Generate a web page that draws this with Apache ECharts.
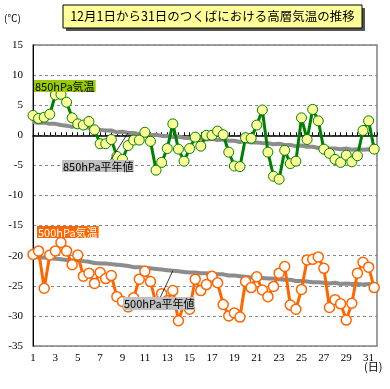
<!DOCTYPE html>
<html><head><meta charset="utf-8">
<script src="https://cdn.jsdelivr.net/npm/echarts@6/dist/echarts.min.js"></script>
<style>html,body{margin:0;padding:0;background:#fff}#c{width:390px;height:389px}</style>
</head><body><div id="c"></div>
<script>
// Twice-daily observations, 1 Dec 09h ... 31 Dec 21h (62 points)
var t850 = [3.3,2.8,3.0,3.5,6.7,6.8,5.5,2.9,1.9,1.7, 2.3,0.9,-1.4,-1.4,-0.7,-3.5,-4.0,-1.7,-0.8,-0.8,
  0.5,-1.0,-5.8,-4.5,-2.2,1.9,-2.3,-4.3,-2.2,-0.3, -1.8,0.0,0.0,0.7,0.1,-2.8,-5.1,-5.2,-0.4,-0.5,
  1.7,4.2,-2.8,-6.8,-7.3,-2.5,-4.7,-4.3,2.9,-0.7, 4.3,2.4,-2.3,-3.0,-4.0,-4.5,-3.3,-4.4,-3.4,0.8, 2.4,-2.3];
var n850 = [2.2,2.1,2.1,1.9,1.9,1.7,1.6,1.4,1.5,1.3, 1.3,1.0,0.9,0.8,0.8,0.5,0.6,0.4,0.4,0.2,
  0.2,0.0,0.1,-0.1,-0.1,-0.3,-0.2,-0.4,-0.5,-0.6, -0.5,-0.7,-0.6,-0.8,-0.7,-0.9,-0.9,-1.1,-1.0,-1.2,
  -1.2,-1.3,-1.3,-1.5,-1.4,-1.6,-1.6,-1.8,-1.7,-1.9, -1.9,-2.1,-2.0,-2.2,-2.2,-2.3,-2.2,-2.4,-2.3,-2.4, -2.3,-2.4];
var t500 = [-19.8,-19.2,-25.4,-19.9,-19.2,-17.8,-19.2,-21.5,-19.9,-23.4, -22.9,-24.6,-22.8,-23.8,-23.3,-26.8,-27.6,-28.5,-27.0,-23.9,
  -22.6,-24.3,-28.0,-26.3,-27.5,-25.8,-30.8,-28.0,-28.9,-23.9, -25.8,-24.8,-23.4,-24.5,-28.1,-30.0,-29.5,-30.2,-24.3,-25.3,
  -23.5,-25.7,-26.8,-25.1,-22.9,-21.8,-28.2,-28.9,-25.6,-20.7, -20.6,-20.2,-22.1,-28.6,-27.3,-28.0,-30.7,-27.9,-22.9,-21.1, -21.9,-25.3];
var n500 = [-20.2,-20.3,-20.3,-20.4,-20.5,-20.6,-20.7,-20.8,-20.8,-20.9, -21.0,-21.2,-21.3,-21.3,-21.4,-21.5,-21.6,-21.7,-21.9,-21.9,
  -22.0,-22.1,-22.2,-22.3,-22.4,-22.5,-22.6,-22.7,-22.8,-22.8, -22.9,-22.9,-23.0,-23.1,-23.1,-23.3,-23.3,-23.4,-23.5,-23.6,
  -23.6,-23.7,-23.8,-23.8,-23.9,-24.0,-24.0,-24.2,-24.2,-24.3, -24.4,-24.4,-24.5,-24.6,-24.5,-24.7,-24.6,-24.7,-24.7,-24.8, -24.7,-24.8];
var yTicks = [15,10,5,0,-5,-10,-15,-20,-25,-30,-35];
var xTickDays = [1,3,5,7,9,11,13,15,17,19,21,23,25,27,29,31];
var titleText = '12月1日から31日のつくばにおける高層気温の推移';

function pairs(arr){ return arr.map(function(v,i){ return [1 + i*0.5, v]; }); }

var chart = echarts.init(document.getElementById('c'), null, {renderer:'canvas'});
var serif = "'Liberation Serif', serif";
var jp = "'Noto Sans CJK JP', sans-serif";

chart.setOption({
  animation:false,
  grid:{left:33, top:45, width:344, height:301, show:true, borderColor:'#808080', borderWidth:1.5},
  xAxis:{type:'value', min:1, max:31.75, interval:2,
    axisLine:{lineStyle:{color:'#000', width:1.5}},
    axisTick:{inside:true, length:3, lineStyle:{color:'#000'}},
    minorTick:{show:true, splitNumber:4, length:3, lineStyle:{color:'#000'}},
    axisLabel:{fontFamily:serif, fontSize:11, color:'#000', margin:7, showMaxLabel:false,
      formatter:function(v){ return xTickDays.indexOf(v)>=0 ? String(v) : ''; }},
    splitLine:{show:false}},
  yAxis:{type:'value', min:yTicks[yTicks.length-1], max:yTicks[0], interval:5,
    axisLine:{show:true, lineStyle:{color:'#000', width:1}},
    axisTick:{show:false},
    axisLabel:{fontFamily:serif, fontSize:11, color:'#000', margin:10},
    splitLine:{lineStyle:{color:'#888', type:[3,3], width:1}}},
  series:[
    {type:'line', data:pairs(n850), showSymbol:false, symbol:'none', lineStyle:{color:'#8c8c8c', width:4}, z:1},
    {type:'line', data:pairs(n500), showSymbol:false, symbol:'none', lineStyle:{color:'#8c8c8c', width:4}, z:1},
    {type:'line', data:pairs(t850), symbol:'circle', symbolSize:10, lineStyle:{color:'#008000', width:3},
      itemStyle:{color:'#FFFF99', borderColor:'#008000', borderWidth:1}, z:3},
    {type:'line', data:pairs(t500), symbol:'circle', symbolSize:10, lineStyle:{color:'#FF6600', width:3},
      itemStyle:{color:'#FFFFFF', borderColor:'#FF6600', borderWidth:1.5}, z:3}
  ]
});

var a850 = chart.convertToPixel({gridIndex:0}, [1 + 17*0.5, n850[17]]);
var a500 = chart.convertToPixel({gridIndex:0}, [1 + 25*0.5, n500[25]]);

chart.setOption({graphic:[
  {type:'rect', shape:{x:66, y:8, width:299, height:23}, style:{fill:'#555'}, z:10},
  {type:'rect', shape:{x:63, y:5, width:299, height:23}, style:{fill:'#FFFF99', stroke:'#000', lineWidth:1}, z:11},
  {type:'text', x:212.5, y:16.5, style:{text:titleText, font:'12.5px '+jp, fill:'#000', align:'center', verticalAlign:'middle'}, z:12},
  {type:'text', x:4, y:13, style:{text:'(℃)', font:'10px '+jp, fill:'#000'}, z:12},
  {type:'text', x:364, y:361, style:{text:'(日)', font:'11px '+jp, fill:'#000'}, z:12},
  {type:'line', shape:{x1:110, y1:161, x2:a850[0], y2:a850[1]}, style:{stroke:'#000', lineWidth:0.8}, z:12},
  {type:'line', shape:{x1:160, y1:298, x2:a500[0], y2:a500[1]}, style:{stroke:'#000', lineWidth:0.8}, z:12},
  {type:'text', x:34, y:80, style:{text:'850hPa気温', font:'11px '+jp, fill:'#000', backgroundColor:'#99CC00', padding:[1,1,0,1]}, z:12},
  {type:'text', x:37, y:226, style:{text:'500hPa気温', font:'11px '+jp, fill:'#fff', backgroundColor:'#FF6600', padding:[1,1,0,1]}, z:12},
  {type:'text', x:62, y:160, style:{text:'850hPa平年値', font:'11px '+jp, fill:'#000', backgroundColor:'#C0C0C0', padding:[1,0,0,1]}, z:12},
  {type:'text', x:123, y:297, style:{text:'500hPa平年値', font:'11px '+jp, fill:'#000', backgroundColor:'#C0C0C0', padding:[1,0,1,1]}, z:12}
]});
</script></body></html>
